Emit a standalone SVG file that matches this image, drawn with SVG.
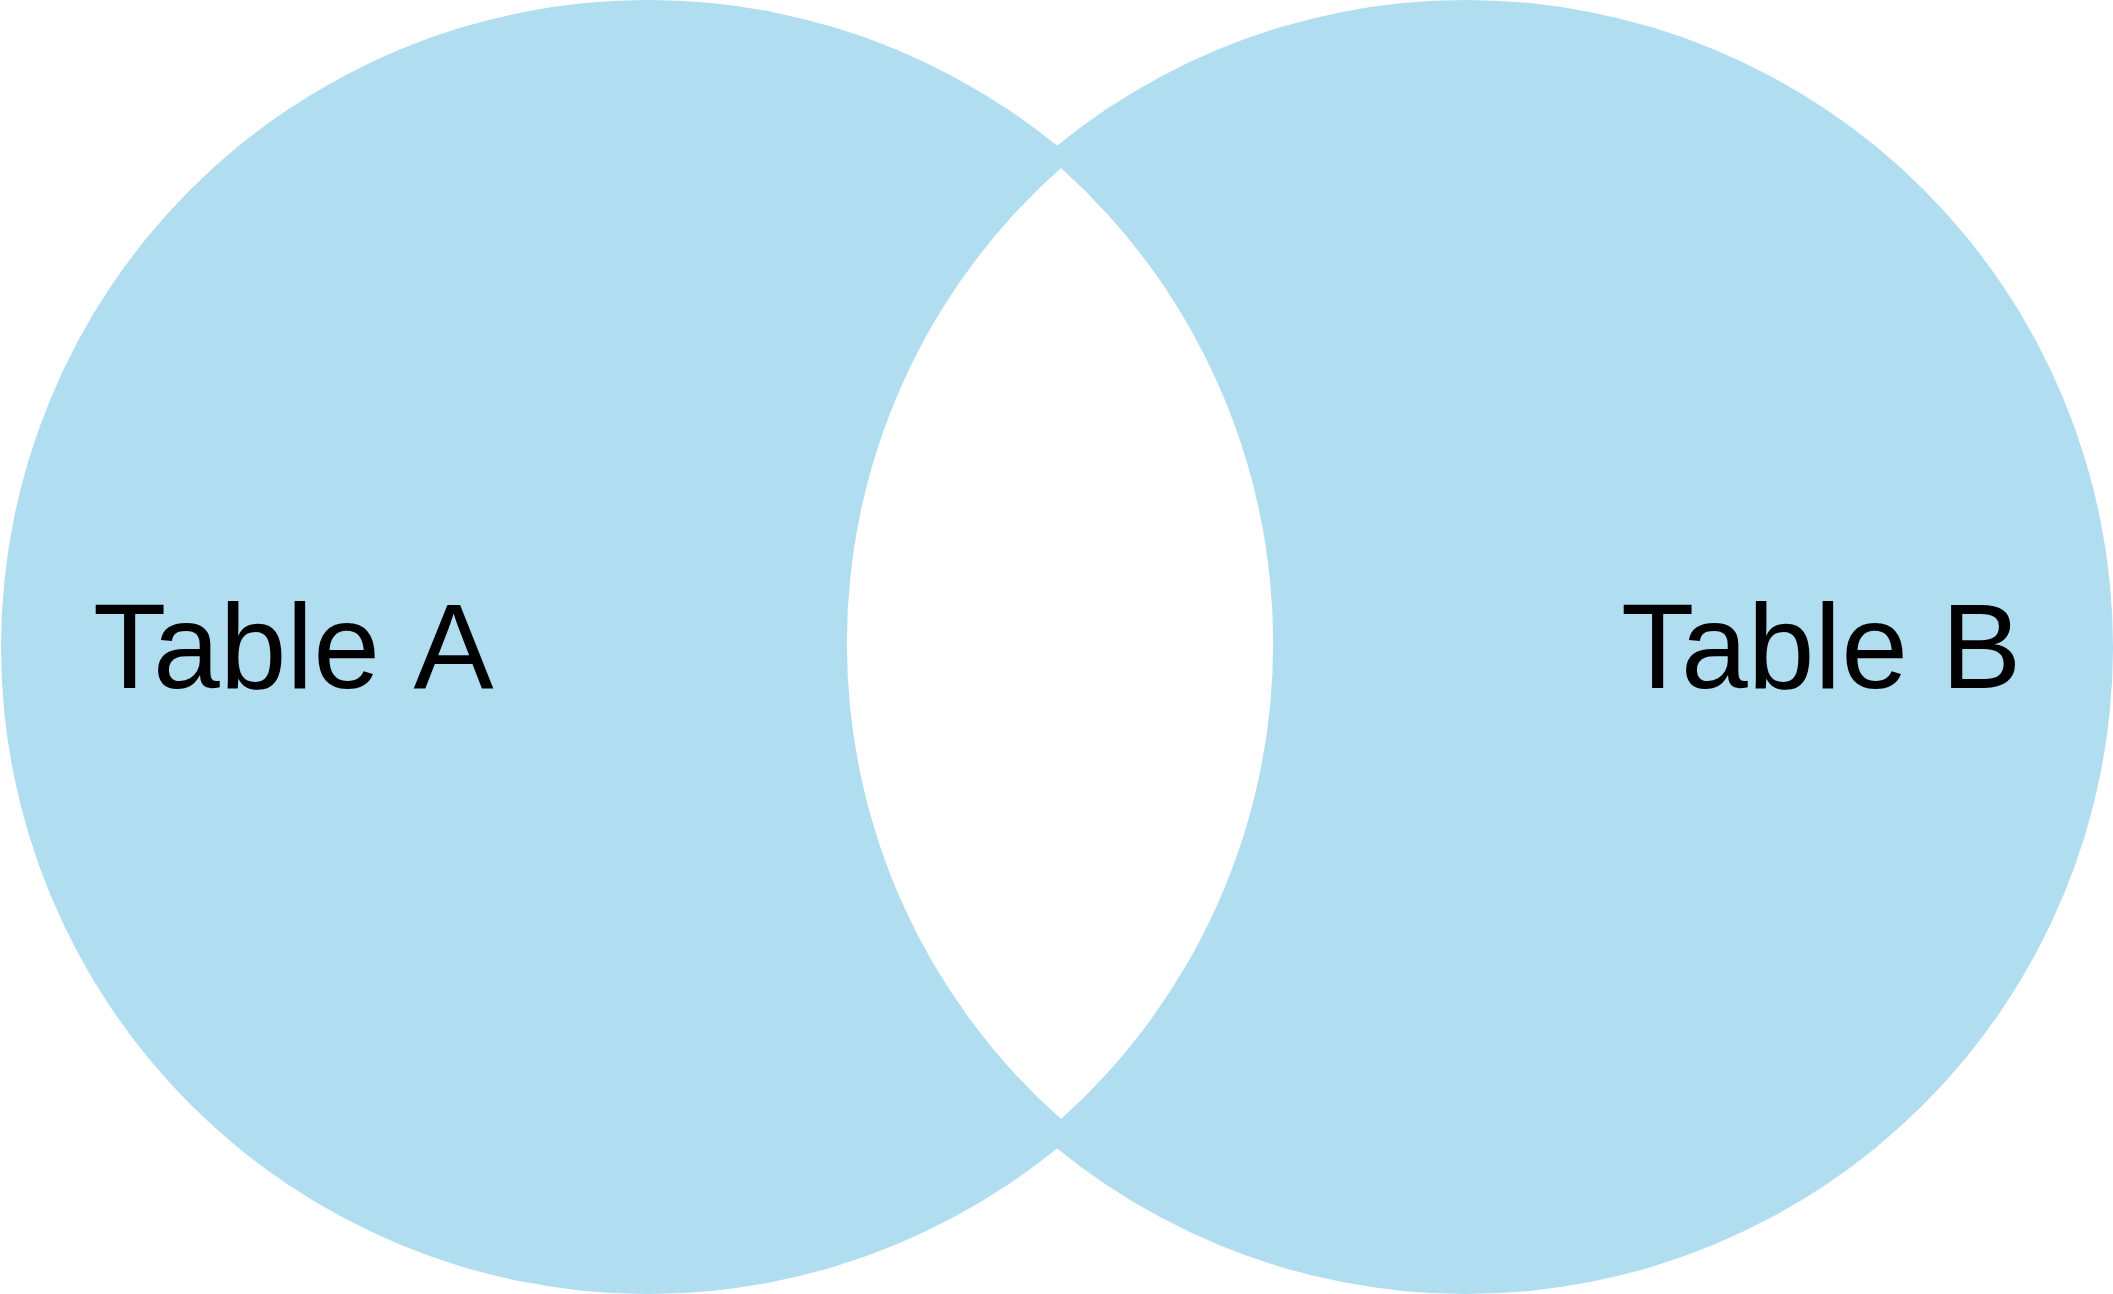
<svg xmlns="http://www.w3.org/2000/svg" width="2113" height="1294" viewBox="0 0 2113 1294">
  <style>
    .set { fill: #b1ddf0; stroke: none; }
    .lens { fill: #ffffff; stroke: none; }
    .label { font-family: "Liberation Sans", Arial, sans-serif; font-size: 120px; fill: #000000; }
  </style>
  <rect x="0" y="0" width="2113" height="1294" fill="#ffffff"/>
  <g id="table-a">
    <circle class="set" cx="648" cy="647" r="647"/>
  </g>
  <g id="table-b">
    <circle class="set" cx="1466" cy="647" r="647"/>
  </g>
  <g id="intersection">
    <path class="lens" d="M1061,168 A635,635 0 0,0 1061,1119 A639,639 0 0,0 1061,168 Z"/>
  </g>
  <g id="labels">
    <text class="label" x="93" y="688">Table <tspan dx="7">A</tspan></text>
    <text class="label" x="1621" y="688">Table B</text>
  </g>
  <g id="connectors"></g>
</svg>
